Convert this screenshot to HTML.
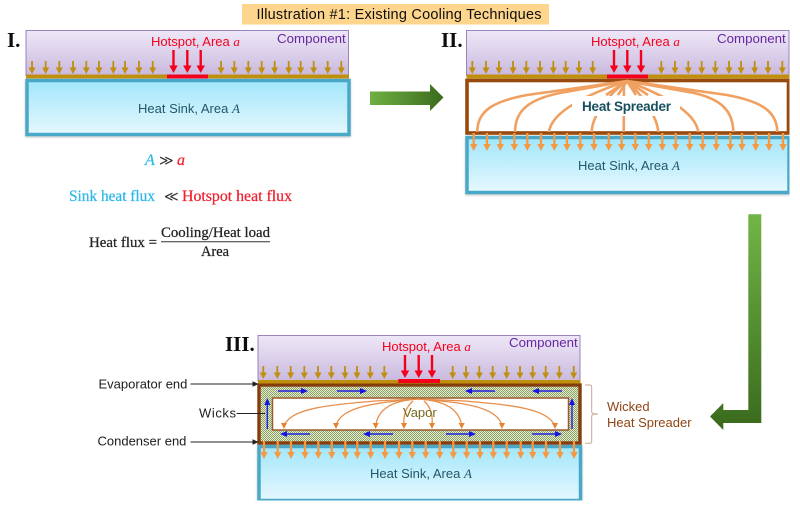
<!DOCTYPE html>
<html><head><meta charset="utf-8"><style>
html,body{margin:0;padding:0;background:#fff;width:800px;height:507px;overflow:hidden}
svg{display:block}
text{font-family:"Liberation Sans",sans-serif}
.s{font-family:"Liberation Serif","DejaVu Serif",serif}
.f{stroke-width:.25;paint-order:stroke}
</style></head><body>
<svg width="800" height="507" viewBox="0 0 800 507" xmlns="http://www.w3.org/2000/svg">
<defs>
<linearGradient id="cp" x1="0" y1="0" x2="0" y2="1"><stop offset="0" stop-color="#eee7f7"/><stop offset="1" stop-color="#c9b9de"/></linearGradient>
<linearGradient id="hs" x1="0" y1="0" x2="0" y2="1"><stop offset="0" stop-color="#a2e6fb"/><stop offset="1" stop-color="#e6f8fe"/></linearGradient>
<linearGradient id="gh" x1="0" y1="0" x2="1" y2="0"><stop offset="0" stop-color="#6fb043"/><stop offset="1" stop-color="#3b6b1e"/></linearGradient>
<linearGradient id="gv" gradientUnits="userSpaceOnUse" x1="0" y1="214" x2="0" y2="430"><stop offset="0" stop-color="#71b546"/><stop offset="1" stop-color="#3a691d"/></linearGradient>
<pattern id="wick" width="2" height="2" patternUnits="userSpaceOnUse"><rect width="2" height="2" fill="#e6ecd4"/><rect width="1" height="1" fill="#8aa163"/><rect x="1" y="1" width="1" height="1" fill="#8aa163"/></pattern>
<g id="g"><line x1="0" y1="0" x2="0" y2="8" stroke="#bf8f10" stroke-width="1.8"/><polygon points="-3.5,6.5 3.5,6.5 0,13" fill="#bf8f10"/></g>
<g id="o"><line x1="0" y1="0" x2="0" y2="13" stroke="#f59a42" stroke-width="2.3"/><polygon points="-3.7,11 3.7,11 0,18" fill="#f59a42"/></g>
<g id="r"><line x1="0" y1="0" x2="0" y2="17" stroke="#f5001c" stroke-width="2.4"/><polygon points="-4.2,15.5 4.2,15.5 0,23" fill="#f5001c"/></g>
<g id="R"><line x1="-30" y1="0" x2="-4" y2="0" stroke="#2020e0" stroke-width="1.4"/><polygon points="-7,-3 -7,3 0,0" fill="#1414e0"/></g>
<g id="L"><line x1="30" y1="0" x2="4" y2="0" stroke="#2020e0" stroke-width="1.4"/><polygon points="7,-3 7,3 0,0" fill="#1414e0"/></g>
<g id="U"><line x1="0" y1="31" x2="0" y2="4" stroke="#2020e0" stroke-width="1.4"/><polygon points="-3,7 3,7 0,0" fill="#1414e0"/></g>
<polygon id="v" points="-3,-4 3,-4 0,2" fill="#e8822e"/>
<filter id="sh" x="-2%" y="-5%" width="104%" height="115%"><feDropShadow dx="0" dy="1" stdDeviation="1" flood-color="#000" flood-opacity=".25"/></filter>
<filter id="bl" x="0" y="0" width="100%" height="100%"><feGaussianBlur stdDeviation="0.28"/></filter>
</defs>
<rect width="800" height="507" fill="#fff"/>
<g filter="url(#bl)">

<!-- title -->
<rect x="242" y="4" width="307" height="20.5" fill="#fdd58c"/>
<text x="399" y="19" text-anchor="middle" font-size="14.5" fill="#111" textLength="285" lengthAdjust="spacing">Illustration #1: Existing Cooling Techniques</text>

<!-- Panel I -->
<text class="s" x="7" y="47" font-size="21" font-weight="bold" fill="#111">I.</text>
<rect x="26" y="30.5" width="322.5" height="45" fill="url(#cp)" stroke="#9a84bd"/>
<rect x="26" y="74.5" width="323" height="4" fill="#bf8f10"/>
<rect x="167" y="74.5" width="41" height="4" fill="#f5001c"/>
<use href="#g" x="32" y="61"/><use href="#g" x="45.7" y="61"/><use href="#g" x="59.3" y="61"/><use href="#g" x="73" y="61"/><use href="#g" x="86.3" y="61"/><use href="#g" x="99" y="61"/><use href="#g" x="113.3" y="61"/><use href="#g" x="125" y="61"/><use href="#g" x="139" y="61"/><use href="#g" x="152.7" y="61"/>
<use href="#g" x="221" y="61"/><use href="#g" x="234.3" y="61"/><use href="#g" x="248.3" y="61"/><use href="#g" x="261.7" y="61"/><use href="#g" x="274.7" y="61"/><use href="#g" x="288.7" y="61"/><use href="#g" x="300.7" y="61"/><use href="#g" x="313.7" y="61"/><use href="#g" x="327.7" y="61"/><use href="#g" x="341.3" y="61"/>
<use href="#r" x="173.5" y="50"/><use href="#r" x="187.3" y="50"/><use href="#r" x="200.7" y="50"/>
<text x="151" y="46" font-size="13" fill="#f5001c">Hotspot, Area <tspan class="s" font-style="italic">a</tspan></text>
<text x="277" y="43" font-size="13.3" fill="#6528a0">Component</text>
<rect x="27" y="80.5" width="322" height="54" fill="url(#hs)" stroke="#4aa8c8" stroke-width="3.5" filter="url(#sh)"/>
<text x="138" y="113" font-size="13" fill="#215868">Heat Sink, Area <tspan class="s" font-style="italic">A</tspan></text>

<!-- Formulas -->
<text class="s f" x="145" y="165" font-size="16" font-style="italic" fill="#2fb8e8" stroke="#2fb8e8">A</text>
<text x="159" y="165" font-size="14" fill="#333" style="font-family:'DejaVu Sans',sans-serif">≫</text>
<text class="s f" x="177" y="165" font-size="16" font-style="italic" fill="#f02030" stroke="#f02030">a</text>
<text class="s f" x="69" y="201" font-size="16" fill="#2fb8e8" stroke="#2fb8e8" textLength="86" lengthAdjust="spacingAndGlyphs">Sink heat flux</text>
<text x="164" y="201" font-size="14" fill="#333" style="font-family:'DejaVu Sans',sans-serif">≪</text>
<text class="s f" x="182" y="201" font-size="16" fill="#f02030" stroke="#f02030" textLength="110" lengthAdjust="spacingAndGlyphs">Hotspot heat flux</text>
<text class="s f" x="89" y="247" font-size="15" fill="#222" stroke="#222" textLength="68" lengthAdjust="spacingAndGlyphs">Heat flux =</text>
<text class="s f" x="161" y="237" font-size="15" fill="#222" stroke="#222" textLength="109" lengthAdjust="spacingAndGlyphs">Cooling/Heat load</text>
<line x1="161" y1="241.7" x2="270" y2="241.7" stroke="#333" stroke-width="1"/>
<text class="s f" x="201" y="256" font-size="15" fill="#222" stroke="#222" textLength="28" lengthAdjust="spacingAndGlyphs">Area</text>

<!-- Green arrow 1 -->
<polygon points="370,91.5 430,91.5 430,84 443.5,97.5 430,111 430,105 370,105" fill="url(#gh)"/>

<!-- Panel II -->
<text class="s" x="441" y="47" font-size="21" font-weight="bold" fill="#111">II.</text>
<rect x="466.5" y="30.5" width="322.5" height="45" fill="url(#cp)" stroke="#9a84bd"/>
<rect x="466.5" y="74.5" width="323" height="4" fill="#bf8f10"/>
<use href="#g" x="472.3" y="61"/><use href="#g" x="486" y="61"/><use href="#g" x="499" y="61"/><use href="#g" x="513" y="61"/><use href="#g" x="526.3" y="61"/><use href="#g" x="540" y="61"/><use href="#g" x="553.3" y="61"/><use href="#g" x="565.7" y="61"/><use href="#g" x="579" y="61"/><use href="#g" x="592.7" y="61"/>
<use href="#g" x="661.3" y="61"/><use href="#g" x="675" y="61"/><use href="#g" x="688.3" y="61"/><use href="#g" x="701.7" y="61"/><use href="#g" x="715.3" y="61"/><use href="#g" x="729" y="61"/><use href="#g" x="741" y="61"/><use href="#g" x="754.7" y="61"/><use href="#g" x="768" y="61"/><use href="#g" x="782.3" y="61"/>
<use href="#r" x="614" y="50"/><use href="#r" x="627.3" y="50"/><use href="#r" x="641" y="50"/>
<text x="591" y="46" font-size="13" fill="#f5001c">Hotspot, Area <tspan class="s" font-style="italic">a</tspan></text>
<text x="717" y="43" font-size="13.3" fill="#6528a0">Component</text>
<rect x="467" y="137.5" width="322" height="55" fill="url(#hs)" stroke="#4aa8c8" stroke-width="3.5" filter="url(#sh)"/>
<rect x="467" y="80.5" width="321.5" height="52.5" fill="#fff" stroke="#984807" stroke-width="3.6"/>
<g fill="none" stroke="#f0a060" stroke-width="2.6">
<path d="M627 81 L527 95 C495 101 477 110 477.3 132"/>
<path d="M627 81 L560 93 C530 99 515 110 515 132"/>
<path d="M627 81 C600 90 552 108 549 132"/>
<path d="M627 81 C610 93 592 115 591.7 132"/>
<path d="M624 81 L623.7 132"/>
<path d="M627 81 C640 93 657 115 658.3 132"/>
<path d="M627 81 C650 90 695 108 698.3 132"/>
<path d="M627 81 L694 93 C720 99 733 110 733.3 132"/>
<path d="M627 81 L727 95 C759 101 777 110 777.3 132"/>
<path d="M627 81 L606 95 M627 81 L648 95 M627 81 L618 95 M627 81 L636 95"/>
</g>
<rect x="572" y="96" width="108" height="20" fill="#fff"/>
<text x="626.5" y="111" text-anchor="middle" font-size="13.5" font-weight="bold" fill="#17505f" textLength="89">Heat Spreader</text>
<rect x="607" y="74.5" width="41" height="4" fill="#f5001c"/>
<use href="#o" x="473.7" y="133"/><use href="#o" x="487" y="133"/><use href="#o" x="500.3" y="133"/><use href="#o" x="514.3" y="133"/><use href="#o" x="527.3" y="133"/><use href="#o" x="541" y="133"/><use href="#o" x="554.3" y="133"/><use href="#o" x="567" y="133"/><use href="#o" x="580.3" y="133"/><use href="#o" x="594" y="133"/><use href="#o" x="608.7" y="133"/><use href="#o" x="621.7" y="133"/><use href="#o" x="635.3" y="133"/><use href="#o" x="648.7" y="133"/><use href="#o" x="662.3" y="133"/><use href="#o" x="675.7" y="133"/><use href="#o" x="689.7" y="133"/><use href="#o" x="702.7" y="133"/><use href="#o" x="716.3" y="133"/><use href="#o" x="730.3" y="133"/><use href="#o" x="742" y="133"/><use href="#o" x="755.7" y="133"/><use href="#o" x="769" y="133"/><use href="#o" x="783" y="133"/>
<text x="578" y="170" font-size="13" fill="#215868">Heat Sink, Area <tspan class="s" font-style="italic">A</tspan></text>

<!-- Green arrow 2 -->
<polygon points="748.3,214.3 761.3,214.3 761.3,423 723.3,423 723.3,430 710,416.5 723.3,403 723.3,410 748.3,410" fill="url(#gv)"/>

<!-- Panel III -->
<text class="s" x="225" y="351" font-size="21" font-weight="bold" fill="#111">III.</text>
<rect x="258" y="335.5" width="322" height="45.5" fill="url(#cp)" stroke="#9a84bd"/>
<use href="#g" x="263.3" y="366"/><use href="#g" x="277.3" y="366"/><use href="#g" x="290.7" y="366"/><use href="#g" x="304.3" y="366"/><use href="#g" x="318" y="366"/><use href="#g" x="331.3" y="366"/><use href="#g" x="345" y="366"/><use href="#g" x="357" y="366"/><use href="#g" x="370.3" y="366"/><use href="#g" x="384.3" y="366"/>
<use href="#g" x="452.7" y="366"/><use href="#g" x="466" y="366"/><use href="#g" x="479.3" y="366"/><use href="#g" x="492.7" y="366"/><use href="#g" x="506.7" y="366"/><use href="#g" x="520" y="366"/><use href="#g" x="532.7" y="366"/><use href="#g" x="545.7" y="366"/><use href="#g" x="559.3" y="366"/><use href="#g" x="573.7" y="366"/>
<use href="#r" x="405" y="355"/><use href="#r" x="418.7" y="355"/><use href="#r" x="432" y="355"/>
<text x="382" y="351" font-size="13" fill="#f5001c">Hotspot, Area <tspan class="s" font-style="italic">a</tspan></text>
<text x="509" y="347" font-size="13.3" fill="#6528a0">Component</text>
<rect x="259" y="446.5" width="321.5" height="54" fill="url(#hs)" stroke="#4aa8c8" stroke-width="3.5" filter="url(#sh)"/>
<rect x="259" y="385" width="321" height="58" fill="url(#wick)" stroke="#843c0c" stroke-width="3.4"/>
<rect x="258" y="380" width="322.5" height="3.5" fill="#bf8f10"/>
<rect x="398.3" y="379" width="41.7" height="4" fill="#f5001c"/>
<rect x="272.5" y="398" width="296" height="32" fill="#fff" stroke="#9a5a2a" stroke-width="1.5"/>
<g fill="none" stroke="#e88f4c" stroke-width="1.3">
<path d="M418 399 L375 401 C330 405 290 408 284 426"/>
<path d="M418 399 C385 402 340 405 336 426"/>
<path d="M418 399 C400 400 378 405 375.7 426"/>
<path d="M413 401 C406 407 403 416 404 426"/>
<path d="M424 401 C431 407 433 416 432 426"/>
<path d="M418 399 C436 400 459 405 461.7 426"/>
<path d="M418 399 C455 402 498 405 502 426"/>
<path d="M418 399 L465 401 C510 405 548 408 555 426"/>
</g>
<use href="#v" x="284" y="427"/><use href="#v" x="336" y="427"/><use href="#v" x="375.7" y="427"/><use href="#v" x="404" y="427"/><use href="#v" x="432" y="427"/><use href="#v" x="461.7" y="427"/><use href="#v" x="502" y="427"/><use href="#v" x="555" y="427"/>
<text x="403" y="417" font-size="13" fill="#75691f">Vapor</text>
<use href="#R" x="308" y="391"/><use href="#R" x="367" y="391"/><use href="#L" x="465" y="391"/><use href="#L" x="532" y="391"/>
<use href="#L" x="280" y="434"/><use href="#L" x="363" y="434"/><use href="#R" x="476" y="434"/><use href="#R" x="562" y="434"/>
<use href="#U" x="267.3" y="398"/><use href="#U" x="572" y="398"/>
<use href="#o" x="264" y="441"/><use href="#o" x="277.7" y="441"/><use href="#o" x="291" y="441"/><use href="#o" x="305" y="441"/><use href="#o" x="318.3" y="441"/><use href="#o" x="331.7" y="441"/><use href="#o" x="345.3" y="441"/><use href="#o" x="357.3" y="441"/><use href="#o" x="370.7" y="441"/><use href="#o" x="385" y="441"/><use href="#o" x="399" y="441"/><use href="#o" x="412.3" y="441"/><use href="#o" x="425.7" y="441"/><use href="#o" x="439.7" y="441"/><use href="#o" x="453.3" y="441"/><use href="#o" x="466.7" y="441"/><use href="#o" x="480" y="441"/><use href="#o" x="493.3" y="441"/><use href="#o" x="506.7" y="441"/><use href="#o" x="520.7" y="441"/><use href="#o" x="532.7" y="441"/><use href="#o" x="546" y="441"/><use href="#o" x="560" y="441"/><use href="#o" x="574" y="441"/>
<text x="370" y="478" font-size="13" fill="#215868">Heat Sink, Area <tspan class="s" font-style="italic">A</tspan></text>

<!-- Labels left -->
<text x="98.5" y="388.5" font-size="13" fill="#1c1c1c">Evaporator end</text>
<text x="199" y="417.5" font-size="13" fill="#1c1c1c" textLength="37">Wicks</text>
<text x="97.5" y="445.5" font-size="13" fill="#1c1c1c">Condenser end</text>
<g stroke="#222" stroke-width="1" fill="#222">
<line x1="190.5" y1="384" x2="254" y2="384"/><polygon points="253,382 253,386 257.5,384"/>
<line x1="236.5" y1="413.5" x2="265" y2="413.5"/>
<line x1="190.5" y1="442" x2="254" y2="442"/><polygon points="253,440 253,444 257.5,442"/>
</g>

<!-- Bracket -->
<path d="M585 385 H590 Q591.7 385 591.7 387 V412 Q591.7 414 598 414 Q591.7 414 591.7 416 V441 Q591.7 443.3 590 443.3 H585" fill="none" stroke="#c8a890" stroke-width="1"/>
<text x="607" y="411" font-size="13" fill="#8f4514">Wicked</text>
<text x="607" y="427" font-size="13" fill="#8f4514">Heat Spreader</text>
</g>
</svg>
</body></html>
